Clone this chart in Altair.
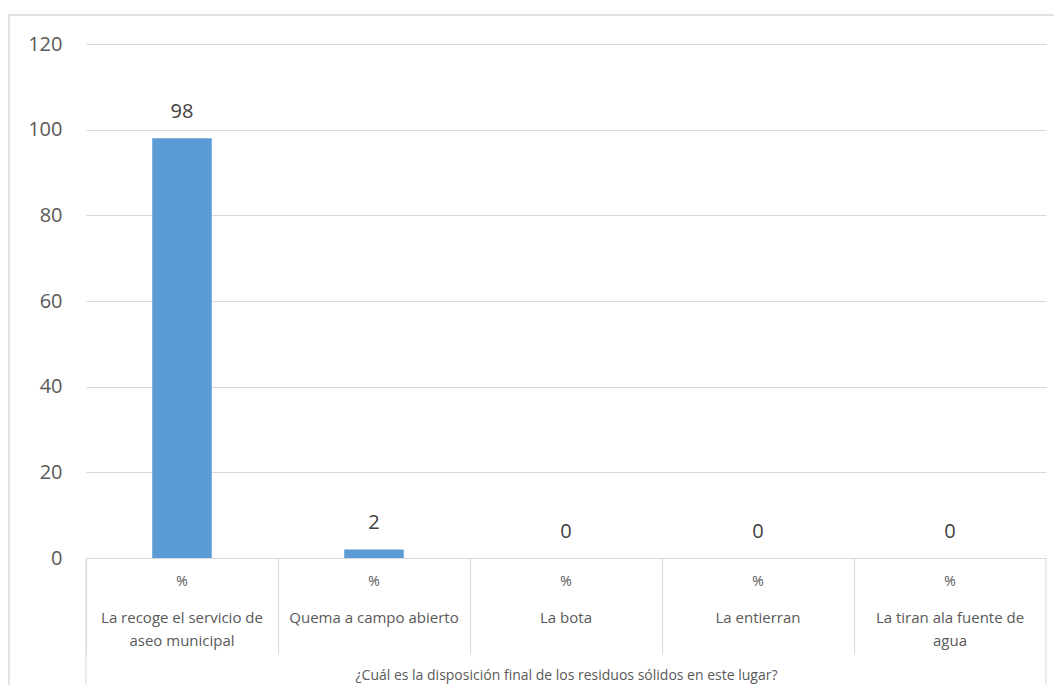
import altair as alt
import pandas as pd

categories = [
    "La recoge el servicio de aseo municipal",
    "Quema a campo abierto",
    "La bota",
    "La entierran",
    "La tiran ala fuente de agua",
]
label_lines = [
    "La recoge el servicio de\naseo municipal",
    "Quema a campo abierto",
    "La bota",
    "La entierran",
    "La tiran ala fuente de\nagua",
]
values = [98, 2, 0, 0, 0]
units = ["%", "%", "%", "%", "%"]
y_ticks = [0, 20, 40, 60, 80, 100, 120]
group_title = "¿Cuál es la disposición final de los residuos sólidos en este lugar?"

W, H = 960, 514
GRID = "#D9D9D9"
TXT = "#595959"
FONT = "Open Sans"

df = pd.DataFrame({"cat": categories, "val": values, "unit": units, "lab": label_lines})

xs = alt.Scale(domain=categories, paddingInner=0, paddingOuter=0)
ys = alt.Scale(domain=[0, 120], nice=False)

x_enc = alt.X(
    "cat:N",
    scale=xs,
    sort=categories,
    axis=alt.Axis(
        title=group_title,
        titleY=117,
        titleBaseline="middle",
        titleFontSize=14,
        titleFontWeight="normal",
        titleColor=TXT,
        titleFont=FONT,
        labels=False,
        ticks=True,
        bandPosition=0,
        tickSize=96,
        tickColor=GRID,
        tickWidth=1,
        domainColor=GRID,
        domainWidth=1,
        grid=False,
    ),
)

y_enc = alt.Y(
    "val:Q",
    scale=ys,
    axis=alt.Axis(
        title=None,
        values=y_ticks,
        domain=False,
        ticks=False,
        labelPadding=24,
        labelFontSize=20,
        labelColor=TXT,
        labelFont=FONT,
        gridColor=GRID,
        gridWidth=1,
    ),
)

base = alt.Chart(df)

bars = base.mark_bar(color="#5B9BD5", width=alt.RelativeBandSize(0.31)).encode(x=x_enc, y=y_enc)

vals = base.mark_text(fontSize=20, color="#404040", baseline="middle", dy=-26, font=FONT).encode(
    x=alt.X("cat:N", scale=xs, sort=categories),
    y=alt.Y("val:Q", scale=ys),
    text=alt.Text("val:Q"),
)

unit_txt = base.mark_text(fontSize=14, color=TXT, baseline="middle", font=FONT).encode(
    x=alt.X("cat:N", scale=xs, sort=categories),
    y=alt.value(H + 24),
    text="unit:N",
)

lab_txt = base.mark_text(
    fontSize=15, color=TXT, baseline="middle", lineBreak="\n", lineHeight=23, align="center", font=FONT
).encode(
    x=alt.X("cat:N", scale=xs, sort=categories),
    y=alt.value(H + 60),
    text="lab:N",
)

edge_df = pd.DataFrame({"k": [0]})
left_rule = alt.Chart(edge_df).mark_rule(color=GRID, strokeWidth=1).encode(
    x=alt.value(0), y=alt.value(H), y2=alt.value(H + 132)
)
right_rule = alt.Chart(edge_df).mark_rule(color=GRID, strokeWidth=1).encode(
    x=alt.value(W), y=alt.value(H), y2=alt.value(H + 132)
)
border = alt.Chart(edge_df).mark_rect(fill="transparent", stroke=GRID, strokeWidth=1.5).encode(
    x=alt.value(-77), x2=alt.value(W + 60), y=alt.value(-29), y2=alt.value(H + 200)
)

chart = (
    alt.layer(border, bars, vals, unit_txt, lab_txt, left_rule, right_rule)
    .properties(
        width=W,
        height=H,
        autosize=alt.AutoSizeParams(type="none"),
        padding={"left": 78, "top": 36, "right": 8, "bottom": 127},
    )
    .configure(font=FONT)
    .configure_view(stroke=None)
)

chart.save("out.html", embed_options={"renderer": "svg", "actions": False})
